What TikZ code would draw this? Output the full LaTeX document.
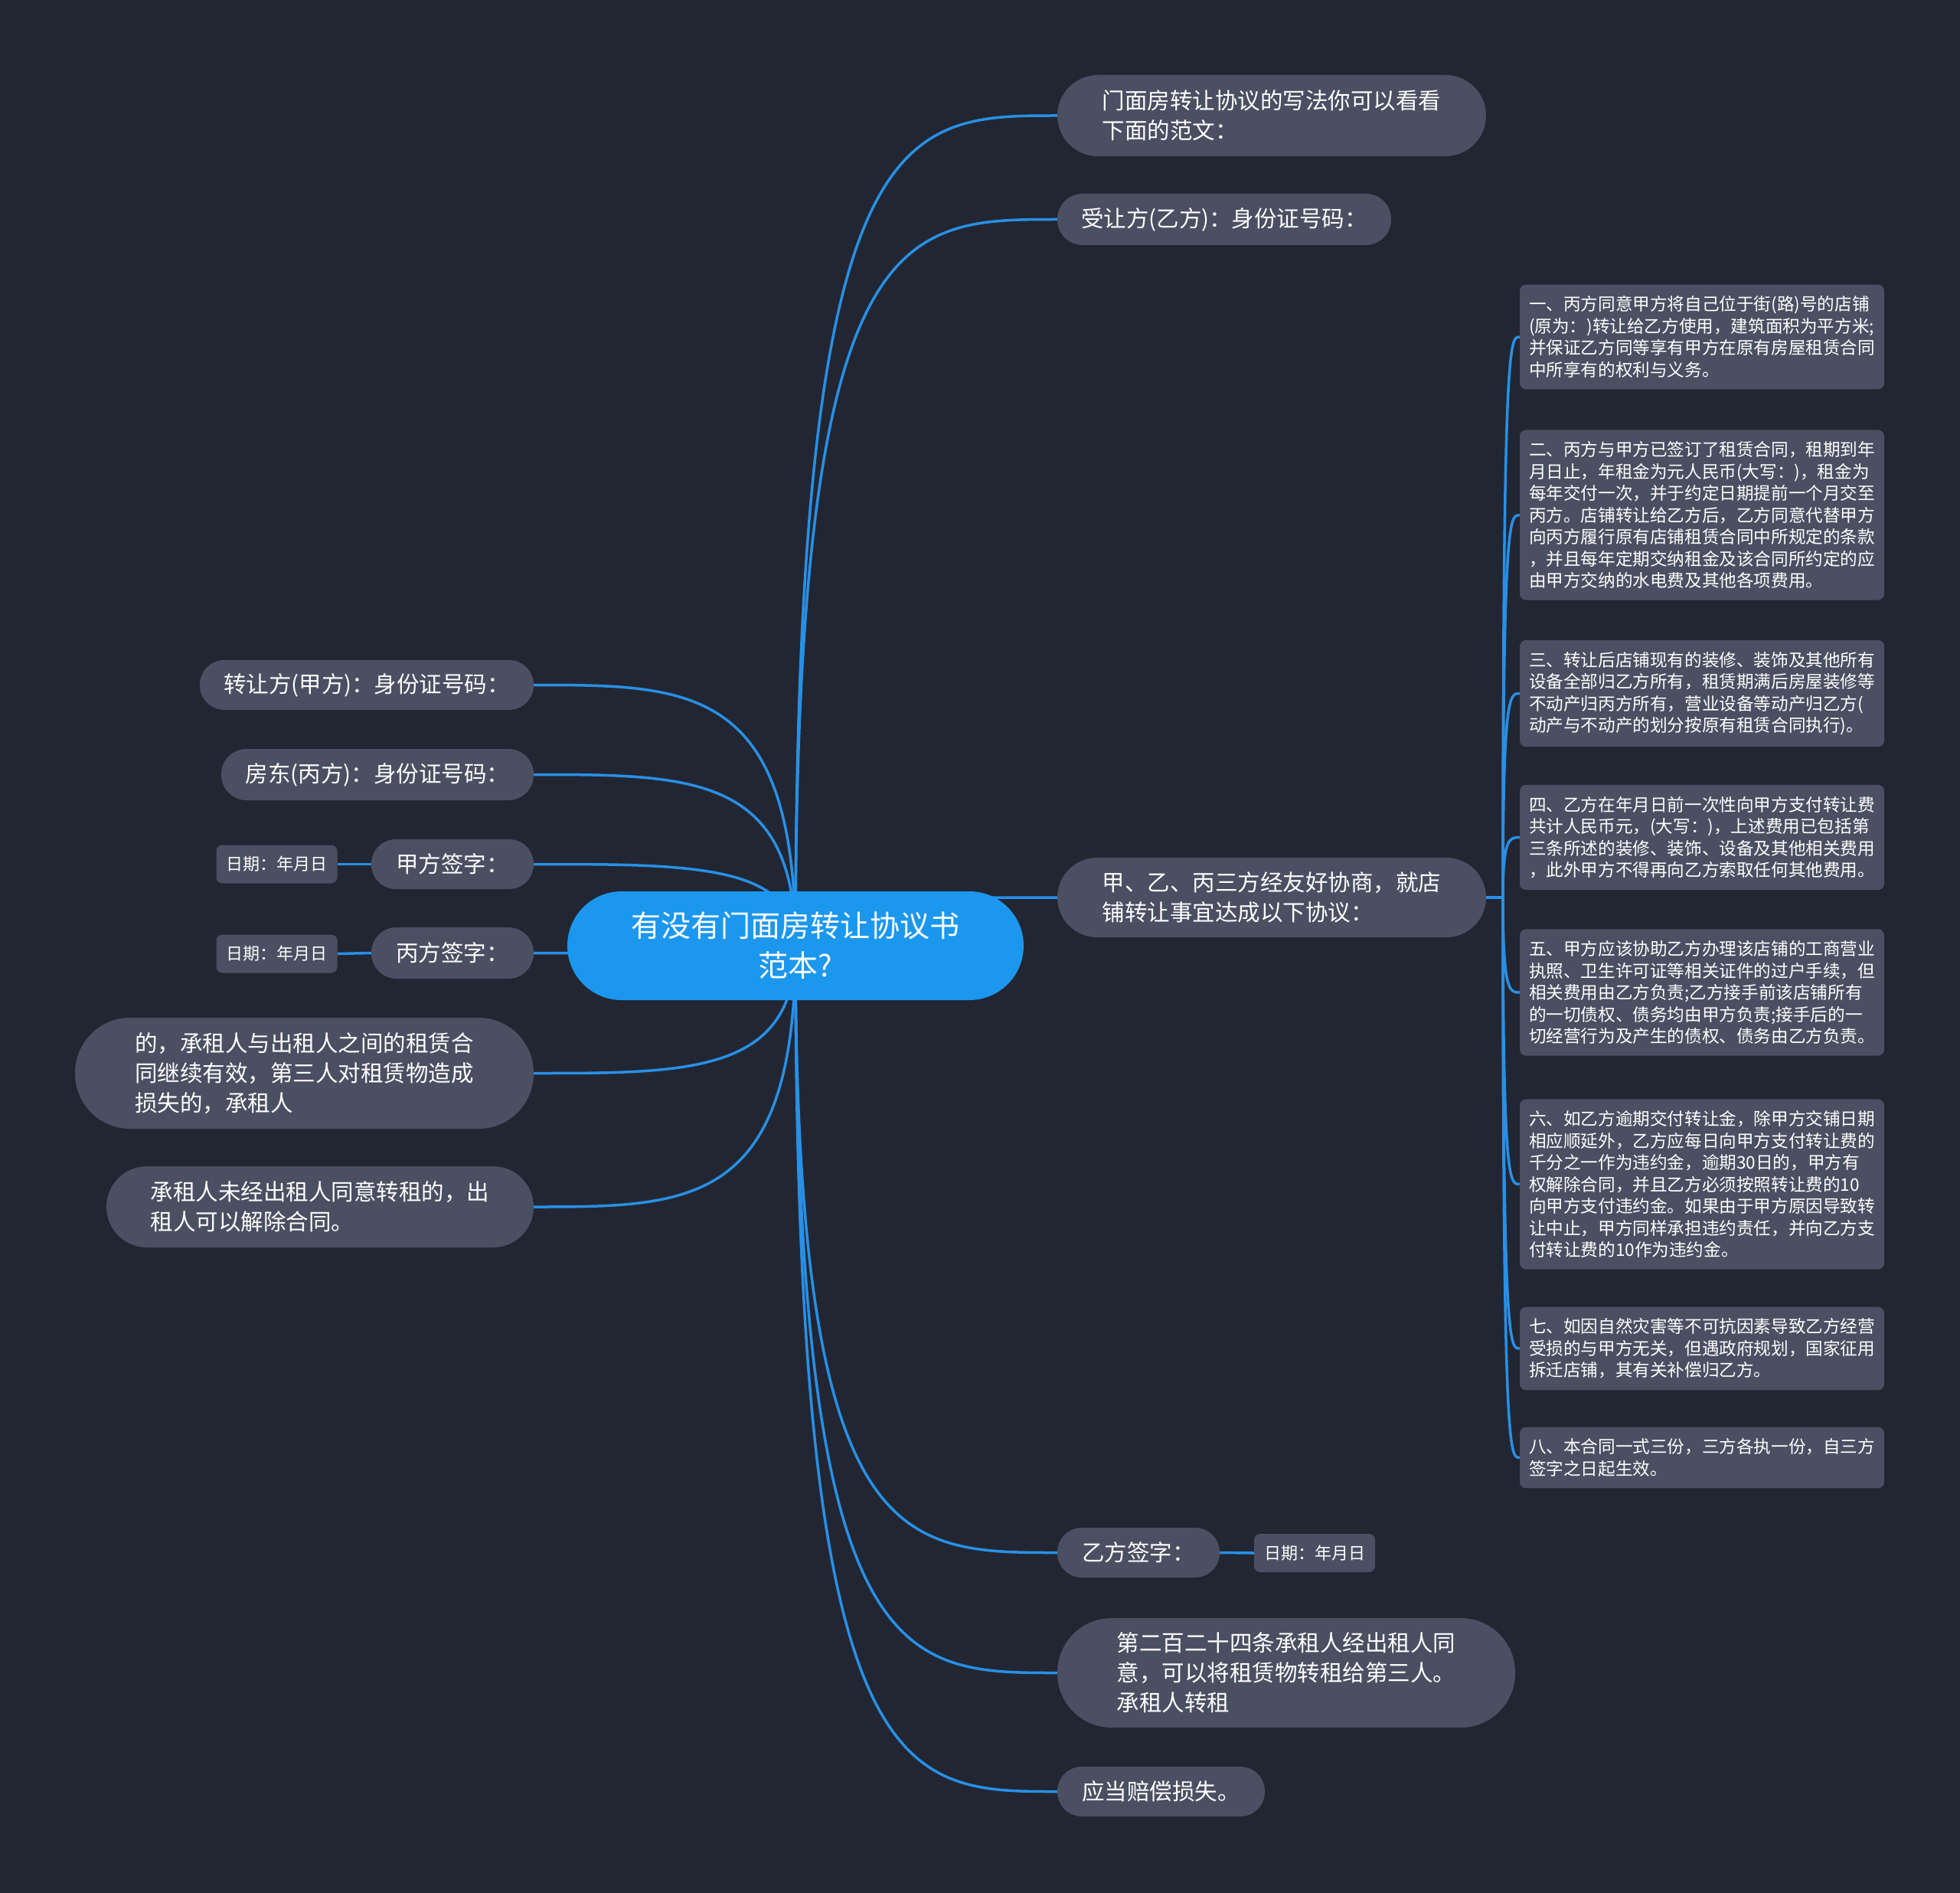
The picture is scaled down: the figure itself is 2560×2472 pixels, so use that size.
\documentclass[tikz,border=0pt]{standalone}
\usepackage{fontspec}
\setmainfont{Noto Sans CJK SC}
\usetikzlibrary{calc}
\newcommand\ZC{\char"FF0C\relax}
\newcommand\ZK{\char"FF1A\relax}
\definecolor{bgc}{RGB}{34,38,50}
\definecolor{nodec}{RGB}{74,80,98}
\definecolor{rootc}{RGB}{28,151,238}
\definecolor{edgec}{RGB}{40,144,230}
\pgfdeclarelayer{bglayer}
\pgfdeclarelayer{edgelayer}
\pgfsetlayers{bglayer,edgelayer,main}
\tikzset{
  topic/.style={fill=nodec, text=white, inner sep=0pt, align=left,
    font=\fontsize{29.5}{39}\selectfont},
  rootnode/.style={fill=rootc, text=white, inner sep=0pt, align=center,
    minimum width=596pt, minimum height=142pt, rounded corners=71pt,
    font=\fontsize{39}{52}\selectfont},
  datebox/.style={fill=nodec, text=white, inner sep=0pt, rounded corners=8pt,
    minimum width=158pt, minimum height=50pt, font=\fontsize{22}{28}\selectfont},
  detail/.style={fill=nodec, text=white, inner xsep=12pt, inner ysep=15pt,
    rounded corners=8pt, text width=452pt, align=left,
    font=\fontsize{22.6}{28.5}\selectfont},
  edge/.style={draw=edgec, line width=3.5pt},
}
\newcommand\mmlink[2]{\draw[edge] (#1) let \p1=(#1), \p2=(#2) in
  .. controls (\x1,\y2) and ({\x1+0.4*(\x2-\x1)},\y2) .. (#2);}
\begin{document}
\begin{tikzpicture}[x=1pt,y=-1pt]
\begin{pgfonlayer}{bglayer}
\fill[bgc] (0,0) rectangle (2560,2472);
\end{pgfonlayer}
\useasboundingbox (0,0) rectangle (2560,2472);

% root
\node[rootnode] (root) at (1039,1235) {有没有门面房转让协议书\\范本?};

% right topics
\node[topic, minimum width=560pt, minimum height=106pt, rounded corners=53pt] (R1) at (1661,151)
  {门面房转让协议的写法你可以看看\\下面的范文\ZK};
\node[topic, minimum width=436pt, minimum height=67pt, rounded corners=33pt] (R2) at (1599,286.5)
  {受让方(乙方)\ZK 身份证号码\ZK};
\node[topic, minimum width=560pt, minimum height=104pt, rounded corners=52pt] (R3) at (1661,1172)
  {甲、乙、丙三方经友好协商\ZC 就店\\铺转让事宜达成以下协议\ZK};
\node[topic, minimum width=212pt, minimum height=65pt, rounded corners=32pt] (R4) at (1487,2027.5)
  {乙方签字\ZK};
\node[datebox] (R4d) at (1717,2028) {日期\ZK 年月日};
\node[topic, minimum width=598pt, minimum height=143pt, rounded corners=71pt] (R5) at (1680,2184.5)
  {第二百二十四条承租人经出租人同\\意\ZC 可以将租赁物转租给第三人。\\承租人转租};
\node[topic, minimum width=271pt, minimum height=65pt, rounded corners=32pt] (R6) at (1516.5,2339.5)
  {应当赔偿损失。};

% left topics
\node[topic, minimum width=436pt, minimum height=65pt, rounded corners=32pt] (L1) at (479,894.5)
  {转让方(甲方)\ZK 身份证号码\ZK};
\node[topic, minimum width=408pt, minimum height=67pt, rounded corners=33pt] (L2) at (493,1011.5)
  {房东(丙方)\ZK 身份证号码\ZK};
\node[topic, minimum width=212pt, minimum height=65pt, rounded corners=32pt] (L3) at (591,1128.5)
  {甲方签字\ZK};
\node[datebox] (L3d) at (361.5,1128.5) {日期\ZK 年月日};
\node[topic, minimum width=212pt, minimum height=67pt, rounded corners=33pt] (L4) at (591,1244.5)
  {丙方签字\ZK};
\node[datebox] (L4d) at (361.5,1245.5) {日期\ZK 年月日};
\node[topic, minimum width=599pt, minimum height=145pt, rounded corners=72pt] (L5) at (397.5,1401.5)
  {的\ZC 承租人与出租人之间的租赁合\\同继续有效\ZC 第三人对租赁物造成\\损失的\ZC 承租人};
\node[topic, minimum width=558pt, minimum height=106pt, rounded corners=53pt] (L6) at (418,1576)
  {承租人未经出租人同意转租的\ZC 出\\租人可以解除合同。};

% detail boxes
\node[detail] (D1) at (2223,440) {一、丙方同意甲方将自己位于街(路)号的店铺\\(原为\ZK)转让给乙方使用\ZC 建筑面积为平方米;\\并保证乙方同等享有甲方在原有房屋租赁合同\\中所享有的权利与义务。};
\node[detail] (D2) at (2223,672.5) {二、丙方与甲方已签订了租赁合同\ZC 租期到年\\月日止\ZC 年租金为元人民币(大写\ZK)\ZC 租金为\\每年交付一次\ZC 并于约定日期提前一个月交至\\丙方。店铺转让给乙方后\ZC 乙方同意代替甲方\\向丙方履行原有店铺租赁合同中所规定的条款\\\ZC 并且每年定期交纳租金及该合同所约定的应\\由甲方交纳的水电费及其他各项费用。};
\node[detail] (D3) at (2223,905.5) {三、转让后店铺现有的装修、装饰及其他所有\\设备全部归乙方所有\ZC 租赁期满后房屋装修等\\不动产归丙方所有\ZC 营业设备等动产归乙方(\\动产与不动产的划分按原有租赁合同执行)。};
\node[detail] (D4) at (2223,1093.5) {四、乙方在年月日前一次性向甲方支付转让费\\共计人民币元\ZC (大写\ZK)\ZC 上述费用已包括第\\三条所述的装修、装饰、设备及其他相关费用\\\ZC 此外甲方不得再向乙方索取任何其他费用。};
\node[detail] (D5) at (2223,1296) {五、甲方应该协助乙方办理该店铺的工商营业\\执照、卫生许可证等相关证件的过户手续\ZC 但\\相关费用由乙方负责;乙方接手前该店铺所有\\的一切债权、债务均由甲方负责;接手后的一\\切经营行为及产生的债权、债务由乙方负责。};
\node[detail] (D6) at (2223,1546.5) {六、如乙方逾期交付转让金\ZC 除甲方交铺日期\\相应顺延外\ZC 乙方应每日向甲方支付转让费的\\千分之一作为违约金\ZC 逾期30日的\ZC 甲方有\\权解除合同\ZC 并且乙方必须按照转让费的10\\向甲方支付违约金。如果由于甲方原因导致转\\让中止\ZC 甲方同样承担违约责任\ZC 并向乙方支\\付转让费的10作为违约金。};
\node[detail] (D7) at (2223,1761) {七、如因自然灾害等不可抗因素导致乙方经营\\受损的与甲方无关\ZC 但遇政府规划\ZC 国家征用\\拆迁店铺\ZC 其有关补偿归乙方。};
\node[detail] (D8) at (2223,1903.5) {八、本合同一式三份\ZC 三方各执一份\ZC 自三方\\签字之日起生效。};

\coordinate (stem) at (1963,1172);

\begin{pgfonlayer}{edgelayer}
\mmlink{root.center}{R1.west}
\mmlink{root.center}{R2.west}
\mmlink{root.center}{R3.west}
\mmlink{root.center}{R4.west}
\mmlink{root.center}{R5.west}
\mmlink{root.center}{R6.west}
\mmlink{root.center}{L1.east}
\mmlink{root.center}{L2.east}
\mmlink{root.center}{L3.east}
\mmlink{root.center}{L4.east}
\mmlink{root.center}{L5.east}
\mmlink{root.center}{L6.east}
\draw[edge] (R4.east) -- (R4d.west);
\draw[edge] (L3.west) -- (L3d.east);
\draw[edge] (L4.west) -- (L4d.east);
\draw[edge] (R3.east) -- (stem);
\mmlink{stem}{D1.west}
\mmlink{stem}{D2.west}
\mmlink{stem}{D3.west}
\mmlink{stem}{D4.west}
\mmlink{stem}{D5.west}
\mmlink{stem}{D6.west}
\mmlink{stem}{D7.west}
\mmlink{stem}{D8.west}
\end{pgfonlayer}
\end{tikzpicture}
\end{document}
